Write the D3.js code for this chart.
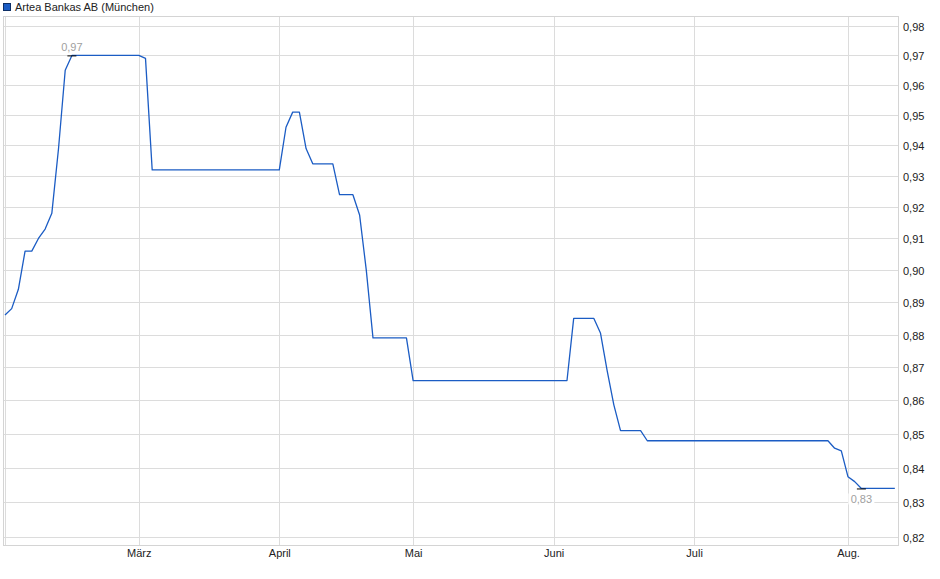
<!DOCTYPE html>
<html>
<head>
<meta charset="utf-8">
<script src="https://cdn.jsdelivr.net/npm/d3@7"></script>
<style>
  body { margin: 0; background: #fff; }
  svg text { font-family: "Liberation Sans", Arial, sans-serif; font-size: 11px; }
</style>
</head>
<body>
<div id="chart"></div>
<script>
// Artea Bankas AB (München) price line, trading-day x axis

const width = 940;
const height = 579;

const seriesName = 'Artea Bankas AB (München)';

// Trading calendar (Börse München, 2025)
const firstDay = '2025-02-03';
const lastDay = '2025-08-12';
const holidays = ['2025-04-18', '2025-04-21', '2025-05-01'];

// Price vertices
const dates = [
    '2025-02-03', '2025-02-04', '2025-02-05', '2025-02-06', '2025-02-07',
    '2025-02-10', '2025-02-11', '2025-02-12', '2025-02-13', '2025-02-14',
    '2025-02-17', '2025-03-03', '2025-03-04', '2025-03-05', '2025-04-01',
    '2025-04-02', '2025-04-03', '2025-04-04', '2025-04-07', '2025-04-08',
    '2025-04-11', '2025-04-14', '2025-04-16', '2025-04-17', '2025-04-22',
    '2025-04-23', '2025-04-30', '2025-05-02', '2025-06-04', '2025-06-05',
    '2025-06-10', '2025-06-11', '2025-06-12', '2025-06-13', '2025-06-16',
    '2025-06-19', '2025-06-20', '2025-07-29', '2025-07-30', '2025-07-31',
    '2025-08-01', '2025-08-04', '2025-08-05', '2025-08-12'
];
const prices = [
    0.886, 0.888, 0.894, 0.906, 0.906,
    0.910, 0.913, 0.918, 0.939, 0.965,
    0.970, 0.970, 0.969, 0.932, 0.932,
    0.946, 0.951, 0.951, 0.939, 0.934,
    0.934, 0.924, 0.924, 0.9175, 0.900,
    0.879, 0.879, 0.866, 0.866, 0.885,
    0.885, 0.8805, 0.869, 0.8587, 0.851,
    0.851, 0.848, 0.848, 0.8458, 0.845,
    0.8374, 0.836, 0.834, 0.834
];

const yTicks = [0.82, 0.83, 0.84, 0.85, 0.86, 0.87, 0.88, 0.89, 0.90,
                0.91, 0.92, 0.93, 0.94, 0.95, 0.96, 0.97, 0.98];
const monthNames = ['Jan.', 'Feb.', 'März', 'April', 'Mai', 'Juni', 'Juli', 'Aug.', 'Sept.', 'Okt.', 'Nov.', 'Dez.'];

const parse = d3.timeParse('%Y-%m-%d');
const fmt = d3.timeFormat('%Y-%m-%d');
const comma = v => d3.format('.2f')(v).replace('.', ',');

// build trading days and an index lookup
const tradingDays = d3.timeDay.range(parse(firstDay), d3.timeDay.offset(parse(lastDay), 1))
    .filter(d => d.getDay() !== 0 && d.getDay() !== 6 && !holidays.includes(fmt(d)));
const dayIndex = new Map(tradingDays.map((d, i) => [fmt(d), i]));

const data = dates.map((d, i) => ({ idx: dayIndex.get(d), value: prices[i] }));

// first trading day of each month
const monthStarts = [];
tradingDays.forEach((d, i) => {
    if (i === 0 || d.getMonth() !== tradingDays[i - 1].getMonth()) {
        monthStarts.push({ idx: i, label: i === 0 ? '' : monthNames[d.getMonth()] });
    }
});

const frame = { left: 3, right: 898, top: 16, bottom: 545 };

const x = d3.scaleLinear()
    .domain([0, 126])
    .range([5, 848]);

const y = d3.scaleLog()
    .domain([0.82, 0.98])
    .range([537, 26]);

const svg = d3.select('#chart')
    .append('svg')
    .attr('width', width)
    .attr('height', height);

// grid
const grid = svg.append('g').attr('shape-rendering', 'crispEdges');
grid.selectAll('.hgrid')
    .data(yTicks)
    .enter()
    .append('line')
    .attr('x1', frame.left)
    .attr('x2', frame.right)
    .attr('y1', d => Math.round(y(d)) + 0.5)
    .attr('y2', d => Math.round(y(d)) + 0.5)
    .attr('stroke', '#dcdcdc');

grid.selectAll('.vgrid')
    .data(monthStarts)
    .enter()
    .append('line')
    .attr('x1', d => Math.round(x(d.idx)) + 0.5)
    .attr('x2', d => Math.round(x(d.idx)) + 0.5)
    .attr('y1', frame.top)
    .attr('y2', frame.bottom + 1)
    .attr('stroke', '#dcdcdc');

grid.append('rect')
    .attr('x', frame.left + 0.5)
    .attr('y', frame.top + 0.5)
    .attr('width', frame.right - frame.left)
    .attr('height', frame.bottom - frame.top)
    .attr('fill', 'none')
    .attr('stroke', '#d4d4d4');

// y labels
svg.selectAll('.ylab')
    .data(yTicks)
    .enter()
    .append('text')
    .attr('x', 903)
    .attr('y', d => Math.round(y(d)) + 4.5)
    .attr('fill', '#222')
    .text(d => comma(d));

// x labels
svg.selectAll('.xlab')
    .data(monthStarts.filter(d => d.label))
    .enter()
    .append('text')
    .attr('x', d => x(d.idx) + 0.5)
    .attr('y', 557)
    .attr('text-anchor', 'middle')
    .attr('fill', '#222')
    .text(d => d.label);

// price line
const line = d3.line()
    .x(d => x(d.idx))
    .y(d => y(d.value));

svg.append('path')
    .datum(data)
    .attr('d', line)
    .attr('fill', 'none')
    .attr('stroke', '#1b5cc4')
    .attr('stroke-width', 1.3)
    .attr('stroke-linejoin', 'round');

// high / low markers
const hi = data.reduce((a, b) => b.value > a.value ? b : a);
const lo = data.reduce((a, b) => b.value < a.value ? b : a);

[hi, lo].forEach(p => {
    svg.append('line')
        .attr('x1', x(p.idx) - 4.5)
        .attr('x2', x(p.idx) + 4.5)
        .attr('y1', y(p.value) + 0.5)
        .attr('y2', y(p.value) + 0.5)
        .attr('stroke', '#000')
        .attr('stroke-width', 1);
});

svg.append('text')
    .attr('x', x(hi.idx))
    .attr('y', y(hi.value) - 4)
    .attr('text-anchor', 'middle')
    .attr('fill', '#a0a0a0')
    .text(comma(hi.value));

const loLabel = svg.append('g');
loLabel.append('rect')
    .attr('x', x(lo.idx) - 13)
    .attr('y', y(lo.value) + 5)
    .attr('width', 26)
    .attr('height', 11)
    .attr('fill', '#fff');
loLabel.append('text')
    .attr('x', x(lo.idx))
    .attr('y', y(lo.value) + 14.5)
    .attr('text-anchor', 'middle')
    .attr('fill', '#a0a0a0')
    .text(comma(lo.value));

// legend
svg.append('rect')
    .attr('x', 3.5)
    .attr('y', 3.5)
    .attr('width', 7)
    .attr('height', 7)
    .attr('fill', '#1b5cc4')
    .attr('stroke', '#0d2f66');

svg.append('text')
    .attr('x', 15)
    .attr('y', 11)
    .attr('fill', '#222')
    .text(seriesName);
</script>
</body>
</html>
